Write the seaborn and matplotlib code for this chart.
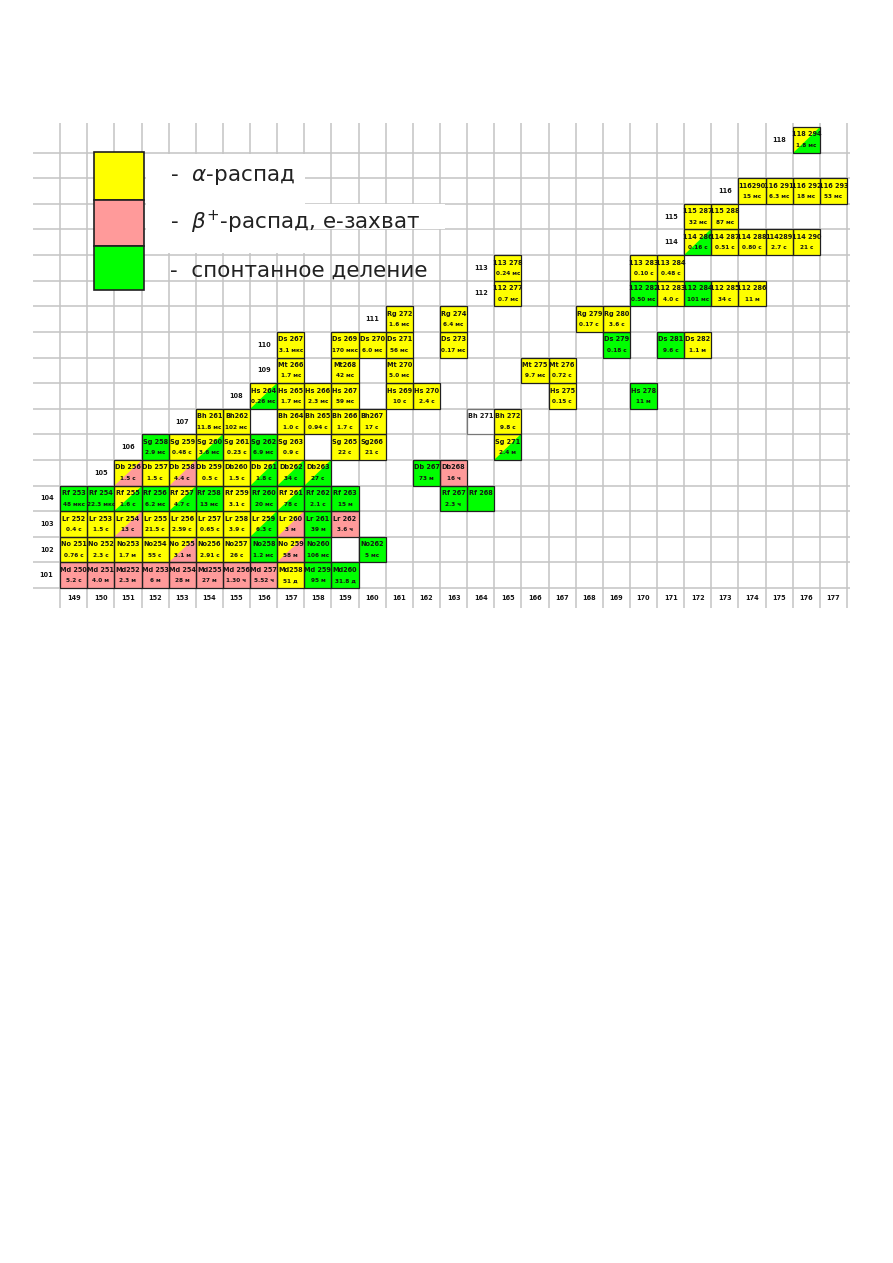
import numpy as np
import pandas as pd
import matplotlib
matplotlib.use("Agg")
import matplotlib.pyplot as plt
from matplotlib.colors import ListedColormap
from matplotlib.patches import Rectangle, Polygon
import seaborn as sns

# ---------- данные: (N, нуклид, период полураспада, тип распада) ----------
# Y - альфа, P - бета+/e-захват, G - спонтанное деление, W - нет данных,
# две буквы - клетка разделена по диагонали
row_101 = [(149, "Md 250", "5.2 с", "P"), (150, "Md 251", "4.0 м", "P"), (151, "Md252", "2.3 м", "P"),
           (152, "Md 253", "6 м", "P"), (153, "Md 254", "28 м", "P"), (154, "Md255", "27 м", "P"),
           (155, "Md 256", "1.30 ч", "P"), (156, "Md 257", "5.52 ч", "P"), (157, "Md258", "51 д", "Y"),
           (158, "Md 259", "95 м", "G"), (159, "Md260", "31.8 д", "G")]
row_102 = [(149, "No 251", "0.76 с", "Y"), (150, "No 252", "2.3 с", "Y"), (151, "No253", "1.7 м", "Y"),
           (152, "No254", "55 с", "Y"), (153, "No 255", "3.1 м", "YP"), (154, "No256", "2.91 с", "Y"),
           (155, "No257", "26 с", "Y"), (156, "No258", "1.2 мс", "G"), (157, "No 259", "58 м", "YP"),
           (158, "No260", "106 мс", "G"), (160, "No262", "5 мс", "G")]
row_103 = [(149, "Lr 252", "0.4 с", "Y"), (150, "Lr 253", "1.5 с", "Y"), (151, "Lr 254", "13 с", "YP"),
           (152, "Lr 255", "21.5 с", "Y"), (153, "Lr 256", "2.59 с", "Y"), (154, "Lr 257", "0.65 с", "Y"),
           (155, "Lr 258", "3.9 с", "Y"), (156, "Lr 259", "6.3 с", "YG"), (157, "Lr 260", "3 м", "YP"),
           (158, "Lr 261", "39 м", "G"), (159, "Lr 262", "3.6 ч", "P")]
row_104 = [(149, "Rf 253", "48 мкс", "G"), (150, "Rf 254", "22.3 мкс", "G"), (151, "Rf 255", "1.6 с", "YG"),
           (152, "Rf 256", "6.2 мс", "G"), (153, "Rf 257", "4.7 с", "YG"), (154, "Rf 258", "13 мс", "G"),
           (155, "Rf 259", "3.1 с", "Y"), (156, "Rf 260", "20 мс", "G"), (157, "Rf 261", "78 с", "YG"),
           (158, "Rf 262", "2.1 с", "G"), (159, "Rf 263", "15 м", "G"), (163, "Rf 267", "2.3 ч", "G"),
           (164, "Rf 268", "", "G")]
row_105 = [(151, "Db 256", "1.5 с", "YP"), (152, "Db 257", "1.5 с", "Y"), (153, "Db 258", "4.4 с", "YP"),
           (154, "Db 259", "0.5 с", "Y"), (155, "Db260", "1.5 с", "Y"), (156, "Db 261", "1.8 с", "YG"),
           (157, "Db262", "34 с", "YG"), (158, "Db263", "27 с", "YG"), (162, "Db 267", "73 м", "G"),
           (163, "Db268", "16 ч", "P")]
row_106 = [(152, "Sg 258", "2.9 мс", "G"), (153, "Sg 259", "0.48 с", "Y"), (154, "Sg 260", "3.6 мс", "YG"),
           (155, "Sg 261", "0.23 с", "Y"), (156, "Sg 262", "6.9 мс", "G"), (157, "Sg 263", "0.9 с", "Y"),
           (159, "Sg 265", "22 с", "Y"), (160, "Sg266", "21 с", "Y"), (165, "Sg 271", "2.4 м", "YG")]
row_107 = [(154, "Bh 261", "11.8 мс", "Y"), (155, "Bh262", "102 мс", "Y"), (157, "Bh 264", "1.0 с", "Y"),
           (158, "Bh 265", "0.94 с", "Y"), (159, "Bh 266", "1.7 с", "Y"), (160, "Bh267", "17 с", "Y"),
           (164, "Bh 271", "", "W"), (165, "Bh 272", "9.8 с", "Y")]
row_108 = [(156, "Hs 264", "0.26 мс", "YG"), (157, "Hs 265", "1.7 мс", "Y"), (158, "Hs 266", "2.3 мс", "Y"),
           (159, "Hs 267", "59 мс", "Y"), (161, "Hs 269", "10 с", "Y"), (162, "Hs 270", "2.4 с", "Y"),
           (167, "Hs 275", "0.15 с", "Y"), (170, "Hs 278", "11 м", "G")]
row_109 = [(157, "Mt 266", "1.7 мс", "Y"), (159, "Mt268", "42 мс", "Y"), (161, "Mt 270", "5.0 мс", "Y"),
           (166, "Mt 275", "9.7 мс", "Y"), (167, "Mt 276", "0.72 с", "Y")]
row_110 = [(157, "Ds 267", "3.1 мкс", "Y"), (159, "Ds 269", "170 мкс", "Y"), (160, "Ds 270", "6.0 мс", "Y"),
           (161, "Ds 271", "56 мс", "Y"), (163, "Ds 273", "0.17 мс", "Y"), (169, "Ds 279", "0.18 с", "G"),
           (171, "Ds 281", "9.6 с", "G"), (172, "Ds 282", "1.1 м", "Y")]
row_111 = [(161, "Rg 272", "1.6 мс", "Y"), (163, "Rg 274", "6.4 мс", "Y"), (168, "Rg 279", "0.17 с", "Y"),
           (169, "Rg 280", "3.6 с", "Y")]
row_112 = [(165, "112 277", "0.7 мс", "Y"), (170, "112 282", "0.50 мс", "G"), (171, "112 283", "4.0 с", "Y"),
           (172, "112 284", "101 мс", "G"), (173, "112 285", "34 с", "Y"), (174, "112 286", "11 м", "Y")]
row_113 = [(165, "113 278", "0.24 мс", "Y"), (170, "113 283", "0.10 с", "Y"), (171, "113 284", "0.48 с", "Y")]
row_114 = [(172, "114 286", "0.16 с", "YG"), (173, "114 287", "0.51 с", "Y"), (174, "114 288", "0.80 с", "Y"),
           (175, "114289", "2.7 с", "Y"), (176, "114 290", "21 с", "Y")]
row_115 = [(172, "115 287", "32 мс", "Y"), (173, "115 288", "87 мс", "Y")]
row_116 = [(174, "116290", "15 мс", "Y"), (175, "116 291", "6.3 мс", "Y"), (176, "116 292", "18 мс", "Y"),
           (177, "116 293", "53 мс", "Y")]
row_118 = [(176, "118 294", "1.8 мс", "YG")]

rows_by_z = {101: row_101, 102: row_102, 103: row_103, 104: row_104, 105: row_105, 106: row_106,
             107: row_107, 108: row_108, 109: row_109, 110: row_110, 111: row_111, 112: row_112,
             113: row_113, 114: row_114, 115: row_115, 116: row_116, 118: row_118}

# в какой колонке N стоит номер Z (148 - левая служебная колонка)
z_label_n = {101: 148, 102: 148, 103: 148, 104: 148, 105: 150, 106: 151, 107: 153, 108: 155,
             109: 156, 110: 156, 111: 160, 112: 164, 113: 164, 114: 171, 115: 171, 116: 173, 118: 175}
n_ticks = list(range(149, 178))

legend_labels = ["-  $\\alpha$-распад", "-  $\\beta^{+}$-распад, е-захват", "-  спонтанное деление"]
colors = {"Y": "#ffff00", "P": "#ff9a9a", "G": "#00ff00", "W": "#ffffff"}

# ---------- таблица ----------
records = []
for z, lst in rows_by_z.items():
    for n, name, half, kind in lst:
        records.append((z, n, name, half, kind))
cells = pd.DataFrame(records, columns=["z", "n", "name", "half", "kind"])
cells["row"] = 118 - cells["z"]
cells["col"] = cells["n"] - 148
code = {"Y": 0, "P": 1, "G": 2, "W": 3}
cells["base"] = cells["kind"].str[0].map(code)

mat = cells.pivot(index="row", columns="col", values="base").reindex(index=range(19), columns=range(30))

sns.set_style("white")
plt.rcParams["font.family"] = ["DejaVu Sans"]

fig = plt.figure(figsize=(8.93, 12.63), dpi=100)
ax = fig.add_axes([33 / 893, 1 - 608 / 1263, 817 / 893, 485 / 1263])

X0, X1 = 0, 30.11
Y0, Y1 = -0.157, 18.78


def dx(px):
    return X0 + (px - 33) / 817 * (X1 - X0)


def dy(py):
    return Y0 + (py - 123) / 485 * (Y1 - Y0)


# сетка
for c in range(1, 31):
    ax.axvline(c, color="#c4c4c4", lw=1.1, zorder=0.5)
for r in range(1, 19):
    ax.axhline(r, color="#c4c4c4", lw=1.1, zorder=0.5)

cmap = ListedColormap([colors["Y"], colors["P"], colors["G"], colors["W"]])
sns.heatmap(mat, mask=mat.isna(), cmap=cmap, vmin=-0.5, vmax=3.5, cbar=False,
            xticklabels=False, yticklabels=False, linewidths=0, ax=ax)

small = dict(ha="center", va="center", fontstretch="condensed", fontweight="bold", color="#151515", zorder=4)
for _, cell in cells.iterrows():
    c, r = cell["col"], cell["row"]
    if len(cell["kind"]) == 2:
        ax.add_patch(Polygon([(c, r + 1), (c + 1, r + 1), (c + 1, r)], closed=True,
                             facecolor=colors[cell["kind"][1]], lw=0, zorder=2))
    edge = "#777777" if cell["kind"] == "W" else "#202020"
    ax.add_patch(Rectangle((c, r), 1, 1, fill=False, ec=edge, lw=0.9, zorder=3))
    ax.text(c + 0.5, r + 0.29, cell["name"], fontsize=5.2, **small)
    ax.text(c + 0.5, r + 0.72, cell["half"], fontsize=4.6, **small)

for z, n in z_label_n.items():
    ax.text(n - 148 + 0.5, 118 - z + 0.5, str(z), fontsize=5.2, **small)
for n in n_ticks:
    ax.text(n - 148 + 0.5, 18.4, str(n), fontsize=5.2, **small)

# легенда
ax.add_patch(Rectangle((dx(146), dy(154)), dx(305) - dx(146), dy(253) - dy(154),
                       facecolor="white", lw=0, zorder=1.5))
ax.add_patch(Rectangle((dx(305), dy(204)), dx(445) - dx(305), dy(229) - dy(204),
                       facecolor="white", lw=0, zorder=1.5))
box_edges = [152, 200, 246, 290]
text_y = [177, 222, 271]
for i, key in enumerate(["Y", "P", "G"]):
    ax.add_patch(Rectangle((dx(94), dy(box_edges[i])), dx(144) - dx(94),
                           dy(box_edges[i + 1]) - dy(box_edges[i]),
                           facecolor=colors[key], ec="#202020", lw=1.2, zorder=3))
    ax.text(dx(170), dy(text_y[i]), legend_labels[i], ha="left", va="center",
            fontsize=15.5, color="#222222", zorder=4)

ax.set_xlim(X0, X1)
ax.set_ylim(Y1, Y0)
ax.axis("off")

fig.savefig("out.png", dpi=100)
